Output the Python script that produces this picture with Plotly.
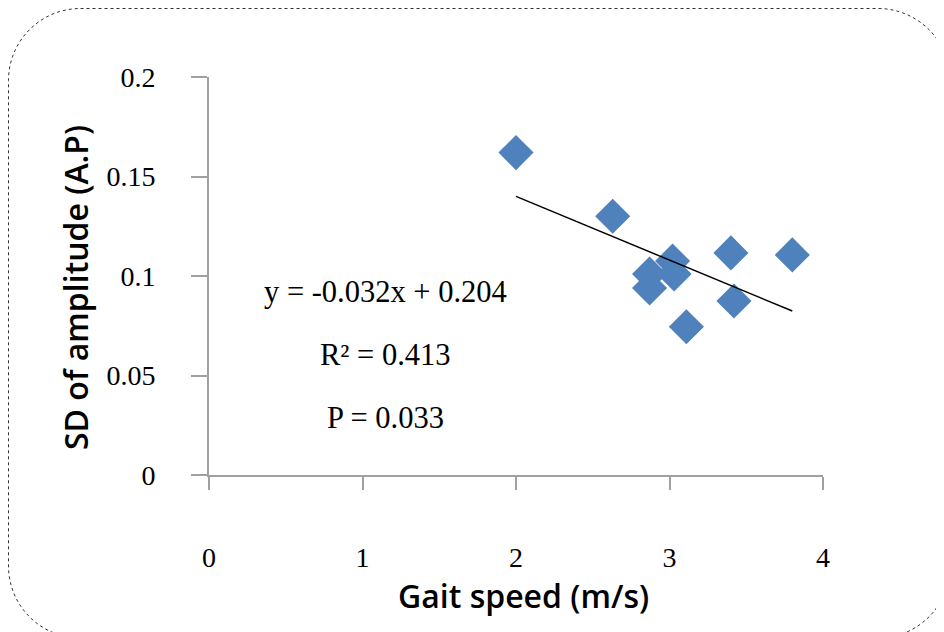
import plotly.graph_objects as go

# Data
gait_speed = [2.00, 2.63, 2.87, 2.87, 3.02, 3.03, 3.11, 3.40, 3.42, 3.80]
sd_amplitude = [0.162, 0.130, 0.101, 0.094, 0.1075, 0.101, 0.0745, 0.1116, 0.0874, 0.1106]
slope = -0.032
intercept = 0.204
eq_text = "y = -0.032x + 0.204"
r2_text = "R² = 0.413"
p_text = "P = 0.033"
x_ticks = [0, 1, 2, 3, 4]
y_ticks = [0, 0.05, 0.1, 0.15, 0.2]
y_tick_labels = ["0", "0.05", "0.1", "0.15", "0.2"]

# page body has an 8px margin, so work in viewport pixels and shift
OFF = 8
W, H = 944, 632
PL, PR, PT, PB = 209, 823, 77, 475          # plot area in viewport pixels
L, T = PL - OFF, PT - OFF
R, B = W - (PR - OFF), H - (PB - OFF)
PW, PH = PR - PL, PB - PT

trend_x = [min(gait_speed), max(gait_speed)]
trend_y = [slope * v + intercept for v in trend_x]

fig = go.Figure()
fig.add_trace(go.Scatter(
    x=gait_speed, y=sd_amplitude, mode="markers",
    marker=dict(symbol="diamond", size=27, color="#4F81BD", line=dict(width=0)),
    showlegend=False, hoverinfo="x+y"))
fig.add_trace(go.Scatter(
    x=trend_x, y=trend_y, mode="lines",
    line=dict(color="black", width=1.5), showlegend=False, hoverinfo="skip"))

serif = "Liberation Serif"
axis_col = "#a0a0a0"

fig.update_xaxes(range=[0, 4], tickvals=x_ticks, ticktext=[str(v) for v in x_ticks],
                 showline=True, linecolor=axis_col, linewidth=2, ticks="outside",
                 ticklen=13, tickwidth=2, tickcolor=axis_col, showgrid=False, zeroline=False,
                 tickfont=dict(family=serif, size=28, color="black"), ticklabelstandoff=43)
fig.update_yaxes(range=[0, 0.2], tickvals=y_ticks, ticktext=y_tick_labels,
                 showline=True, linecolor=axis_col, linewidth=2, ticks="outside",
                 ticklen=16, tickwidth=2, tickcolor=axis_col, showgrid=False, zeroline=False,
                 tickfont=dict(family=serif, size=28, color="black"), ticklabelstandoff=30)

def px(x):
    return (x - PL) / PW

def py(y):
    return (PB - y) / PH

anns = []
for txt, yy in [(eq_text, 292), (r2_text, 355), (p_text, 418)]:
    anns.append(dict(x=px(385), y=py(yy), xref="paper", yref="paper", text=txt,
                     showarrow=False, font=dict(family=serif, size=30.5, color="black"),
                     xanchor="center", yanchor="middle"))
title_font = dict(family="Open Sans", size=32, color="black", weight=600)
anns.append(dict(x=px(523), y=py(595), xref="paper", yref="paper", text="Gait speed (m/s)",
                 showarrow=False, font=title_font, xanchor="center", yanchor="middle"))
anns.append(dict(x=px(75), y=py(288), xref="paper", yref="paper", text="SD of amplitude (A.P)",
                 showarrow=False, font=title_font, textangle=-90, xanchor="center", yanchor="middle"))

# rounded dotted frame (viewport pixels)
x0, y0, x1, y1, r = 8.5, 8.5, 950, 638, 72
k = 0.5523 * r
def P(x, y):
    return f"{px(x):.5f},{py(y):.5f}"
path = (f"M {P(x0 + r, y0)} L {P(x1 - r, y0)} "
        f"C {P(x1 - r + k, y0)} {P(x1, y0 + r - k)} {P(x1, y0 + r)} "
        f"L {P(x1, y1 - r)} "
        f"C {P(x1, y1 - r + k)} {P(x1 - r + k, y1)} {P(x1 - r, y1)} "
        f"L {P(x0 + r, y1)} "
        f"C {P(x0 + r - k, y1)} {P(x0, y1 - r + k)} {P(x0, y1 - r)} "
        f"L {P(x0, y0 + r)} "
        f"C {P(x0, y0 + r - k)} {P(x0 + r - k, y0)} {P(x0 + r, y0)} Z")

fig.update_layout(
    width=W, height=H, margin=dict(l=L, r=R, t=T, b=B),
    paper_bgcolor="white", plot_bgcolor="white",
    annotations=anns,
    shapes=[dict(type="path", path=path, xref="paper", yref="paper",
                 line=dict(color="#333333", width=1, dash="dot"), layer="above")],
)

fig.write_html("out.html")
